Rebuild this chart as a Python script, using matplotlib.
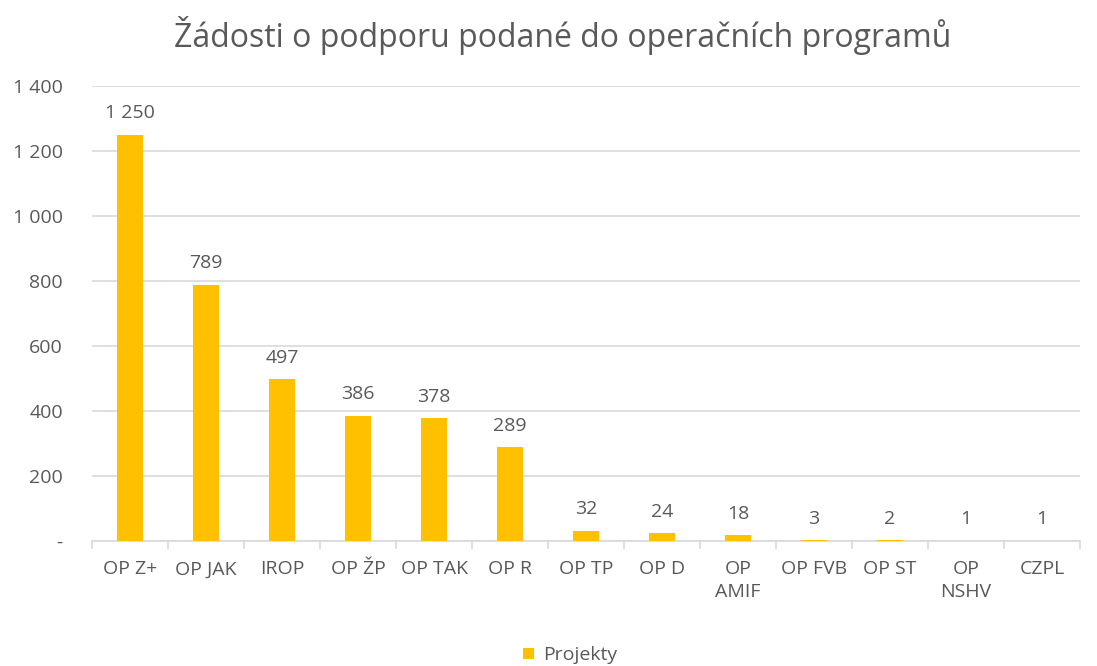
import matplotlib
matplotlib.use("Agg")
from matplotlib import pyplot as plt
from matplotlib.ticker import FuncFormatter, FixedLocator

categories = ["OP Z+", "OP JAK", "IROP", "OP ŽP", "OP TAK", "OP R", "OP TP",
              "OP D", "OP\nAMIF", "OP FVB", "OP ST", "OP\nNSHV", "CZPL"]
projekty = [1250, 789, 497, 386, 378, 289, 32, 24, 18, 3, 2, 1, 1]

gold = "#FFC000"
txt = "#595959"
grid = "#D9D9D9"

plt.rcParams["font.family"] = ["Open Sans", "DejaVu Sans"]

fig = plt.figure(figsize=(10.97, 6.66), dpi=100)
ax = fig.add_axes([0.0839, 0.1877, 0.9006, 0.6832])

x = list(range(len(categories)))
bars = ax.bar(x, projekty, width=0.35, color=gold, label="Projekty", zorder=3)

def fmt(v):
    return "-" if v == 0 else f"{int(v):,}".replace(",", " ")

for xi, v in zip(x, projekty):
    ax.text(xi, v + 38, fmt(v), ha="center", va="bottom", fontsize=14, color=txt)

ax.set_xlim(-0.5, len(categories) - 0.5)
ax.set_ylim(0, 1400)
ax.set_yticks(range(0, 1401, 200))
ax.yaxis.set_major_formatter(FuncFormatter(lambda v, p: fmt(v)))
ax.set_xticks(x)
ax.set_xticklabels(categories, fontsize=14, color=txt, linespacing=1.35, va="top")
ax.xaxis.set_minor_locator(FixedLocator([i - 0.5 for i in range(len(categories) + 1)]))
ax.tick_params(axis="x", which="major", length=0, pad=14)
ax.tick_params(axis="x", which="minor", length=6, color=grid, width=1.2)
ax.tick_params(axis="y", length=0, labelsize=14, labelcolor=txt, pad=21)

ax.grid(axis="y", color=grid, linewidth=1.2, zorder=0)
for s in ["top", "right", "left"]:
    ax.spines[s].set_visible(False)
ax.spines["bottom"].set_color(grid)
ax.spines["bottom"].set_linewidth(1.2)

fig.text(0.513, 0.947, "Žádosti o podporu podané do operačních programů",
         ha="center", va="center", fontsize=23, color=txt)

leg = fig.legend(handles=[bars], labels=["Projekty"], loc="center",
                 bbox_to_anchor=(0.52, 0.016), frameon=False, fontsize=14,
                 handlelength=0.55, handleheight=0.55, handletextpad=0.5)
for t in leg.get_texts():
    t.set_color(txt)

fig.savefig("out.png", dpi=100)
